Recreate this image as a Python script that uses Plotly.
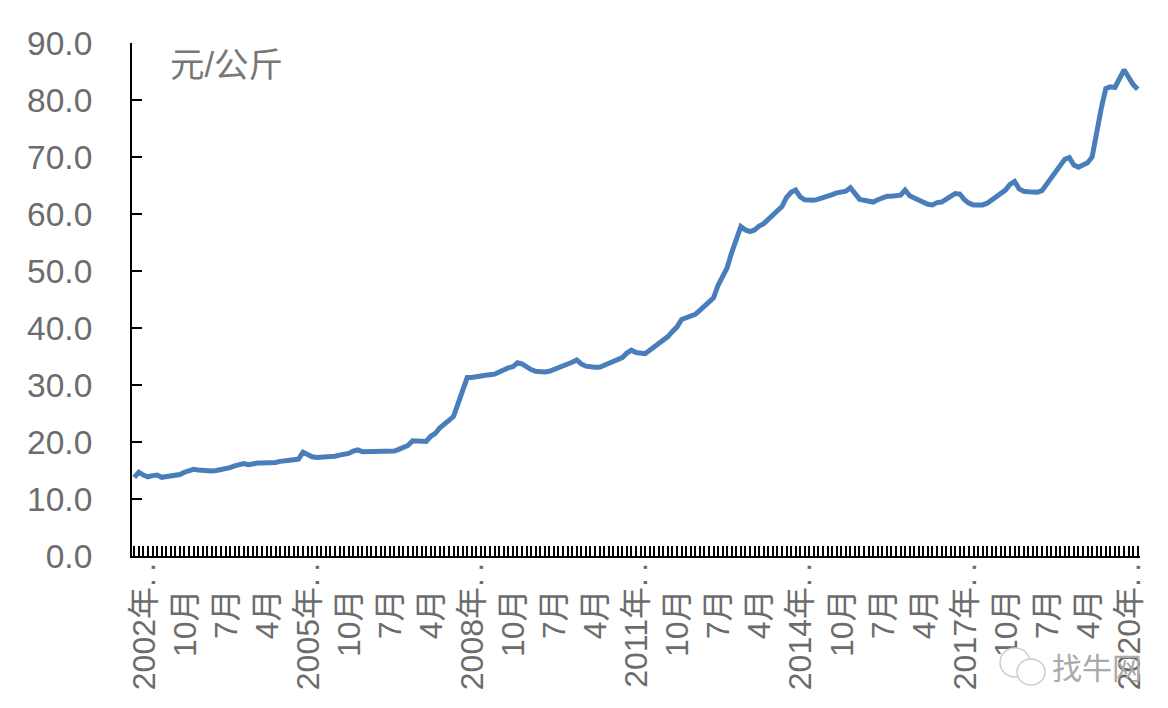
import plotly.graph_objects as go

# Monthly pork price, yuan per kg, January 2002 to May 2020
price_2002 = [13.8, 14.7, 14.2, 13.9, 14.1, 14.2, 13.8, 13.9, 14.1, 14.2, 14.3, 14.7]
price_2003 = [15.0, 15.2, 15.1, 15.0, 14.8, 14.9, 15.0, 15.1, 15.2, 15.5, 15.8, 15.9]
price_2004 = [16.2, 16.0, 16.2, 16.3, 16.3, 16.3, 16.3, 16.4, 16.6, 16.8, 16.8, 16.9]
price_2005 = [17.0, 18.2, 17.7, 17.4, 17.3, 17.3, 17.3, 17.3, 17.5, 17.7, 17.8, 18.0]
price_2006 = [18.4, 18.6, 18.3, 18.3, 18.3, 18.3, 18.3, 18.25, 18.25, 18.4, 18.7, 19.1]
price_2007 = [19.4, 20.2, 20.2, 20.1, 20.1, 21.0, 21.5, 22.5, 23.3, 23.8, 24.5, 26.9]
price_2008 = [29.4, 31.3, 31.3, 31.5, 31.7, 31.7, 31.8, 31.9, 32.3, 32.7, 33.0, 33.2]
price_2009 = [33.9, 33.7, 33.1, 32.7, 32.4, 32.3, 32.3, 32.4, 32.7, 33.0, 33.3, 33.5]
price_2010 = [34.0, 34.4, 33.7, 33.3, 33.1, 33.1, 33.1, 33.4, 33.8, 34.0, 34.5, 34.8]
price_2011 = [35.6, 36.1, 35.7, 35.5, 35.5, 36.1, 36.7, 37.5, 38.1, 38.5, 39.4, 40.2]
price_2012 = [41.5, 41.8, 41.9, 42.4, 43.1, 43.9, 44.6, 45.3, 47.5, 49.0, 50.6, 53.3]
price_2013 = [55.8, 57.8, 57.2, 56.9, 57.2, 57.9, 58.3, 59.0, 59.8, 60.4, 61.3, 62.9]
price_2014 = [63.8, 64.2, 63.0, 62.5, 62.4, 62.4, 62.6, 62.8, 63.2, 63.4, 63.7, 63.8]
price_2015 = [64.0, 64.6, 63.5, 62.6, 62.4, 62.3, 62.1, 62.5, 62.9, 63.1, 63.1, 63.2]
price_2016 = [63.3, 64.2, 63.2, 62.8, 62.4, 62.1, 61.7, 61.6, 62.0, 62.1, 62.5, 63.1]
price_2017 = [63.6, 63.5, 62.5, 61.9, 61.6, 61.5, 61.6, 61.9, 62.5, 63.1, 63.5, 64.2]
price_2018 = [65.2, 65.7, 64.4, 64.0, 63.9, 63.8, 63.8, 64.1, 65.2, 66.2, 67.2, 68.6]
price_2019 = [69.6, 69.9, 68.6, 68.2, 68.6, 69.0, 70.0, 74.5, 78.5, 82.0, 82.3, 82.2]
price_2020 = [84.0, 85.3, 84.0, 82.7, 81.9]

prices = (price_2002 + price_2003 + price_2004 + price_2005 + price_2006 + price_2007
          + price_2008 + price_2009 + price_2010 + price_2011 + price_2012 + price_2013
          + price_2014 + price_2015 + price_2016 + price_2017 + price_2018 + price_2019
          + price_2020)
months = list(range(len(prices)))

# One label every nine months; the long year labels are cut off with dots
label_step = 9
dots = ".\u2009."
pad = "\u00a0\u00a0\u00a0"
month_labels = [
    "2002年" + dots, "10月" + pad, "7月" + pad, "4月" + pad,
    "2005年" + dots, "10月" + pad, "7月" + pad, "4月" + pad,
    "2008年" + dots, "10月" + pad, "7月" + pad, "4月" + pad,
    "2011年" + dots, "10月" + pad, "7月" + pad, "4月" + pad,
    "2014年" + dots, "10月" + pad, "7月" + pad, "4月" + pad,
    "2017年" + dots, "10月" + pad, "7月" + pad, "4月" + pad,
    "2020年" + dots,
]
tick_text = [
    month_labels[m // label_step] if m % label_step == 0 else ""
    for m in months
]
y_ticks = [0, 10, 20, 30, 40, 50, 60, 70, 80, 90]

FONT = "Liberation Sans, Arial, Noto Sans CJK SC"
TEXT = "#6c6c6c"

fig = go.Figure(
    go.Scatter(
        x=months,
        y=prices,
        mode="lines",
        line=dict(color="#4a7ebb", width=5),
        hoverinfo="skip",
    )
)

LEFT, RIGHT, TOP, BOTTOM = 132, 28, 43, 152
W, H = 1168 - LEFT - RIGHT, 708 - TOP - BOTTOM


def px(x):
    return (x - LEFT) / W


def py(y):
    return (708 - BOTTOM - y) / H


# WeChat-style double bubble beside the site name
bubble = dict(type="circle", xref="paper", yref="paper", layer="above",
              line=dict(color="#cccccc", width=1.5), fillcolor="white")
shapes = [
    dict(bubble, x0=px(1000), x1=px(1030), y0=py(677), y1=py(648)),
    dict(bubble, x0=px(1017), x1=px(1045), y0=py(685), y1=py(659)),
]

fig.update_layout(
    width=1168,
    height=708,
    margin=dict(l=LEFT, r=RIGHT, t=TOP, b=BOTTOM, autoexpand=False),
    paper_bgcolor="white",
    plot_bgcolor="white",
    showlegend=False,
    font=dict(family=FONT, size=32, color=TEXT),
    xaxis=dict(
        range=[-0.5, len(prices) - 0.5],
        tickmode="array",
        tickvals=months,
        ticktext=tick_text,
        tickangle=-90,
        ticks="inside",
        ticklen=10,
        tickwidth=1.6,
        tickcolor="#000000",
        showline=True,
        linecolor="#000000",
        linewidth=2,
        showgrid=False,
        zeroline=False,
        ticklabelshift=10,
        ticklabelstandoff=-8,
        tickfont=dict(family=FONT, size=32, color=TEXT),
    ),
    yaxis=dict(
        range=[0, 90],
        tickmode="array",
        tickvals=y_ticks,
        tickformat=".1f",
        ticks="inside",
        ticklen=10,
        tickwidth=2,
        tickcolor="#000000",
        showline=True,
        linecolor="#000000",
        linewidth=2,
        showgrid=False,
        zeroline=False,
        ticklabelstandoff=31,
        tickfont=dict(family=FONT, size=33.5, color=TEXT),
    ),
    shapes=shapes,
    annotations=[
        dict(text="元/公斤", xref="paper", yref="paper", x=px(168), y=py(65),
             xanchor="left", yanchor="middle", showarrow=False,
             font=dict(family=FONT, size=34.5, color="#777777")),
        dict(text="找牛网", xref="paper", yref="paper", x=px(1050), y=py(668),
             xanchor="left", yanchor="middle", showarrow=False,
             font=dict(family=FONT, size=30, color="#aaaaaa")),
    ],
)

fig.write_html("out.html", config=dict(displayModeBar=False))
